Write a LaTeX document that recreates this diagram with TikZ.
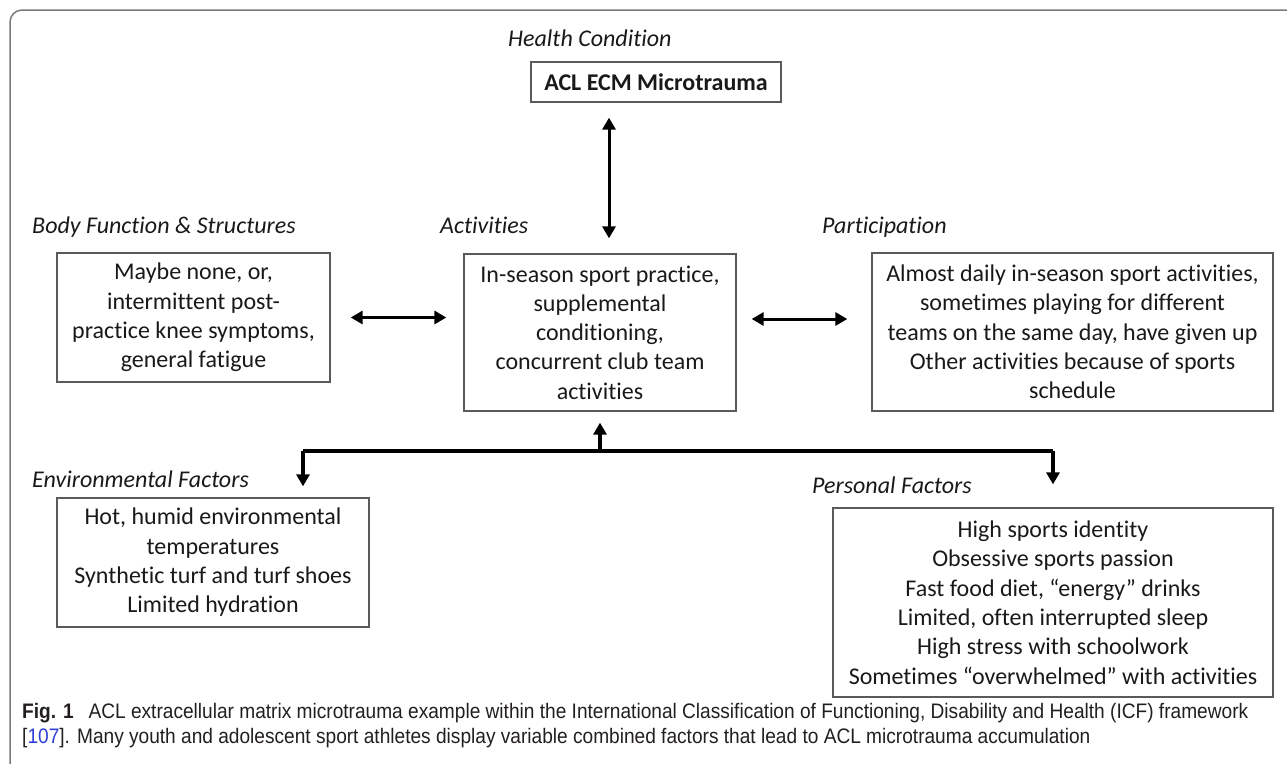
\documentclass[tikz,border=0pt]{standalone}
\usepackage{fontspec}
\setmainfont{Carlito}[Ligatures={NoCommon}]
\newfontfamily\capfont[FakeStretch=0.91]{Liberation Sans}
\usetikzlibrary{arrows.meta}
\definecolor{framegray}{HTML}{7A7A7A}
\definecolor{boxgray}{HTML}{5A5A5A}
\definecolor{linkblue}{HTML}{2B3FD6}
\definecolor{captxt}{HTML}{231F20}
\begin{document}
\begin{tikzpicture}[x=1pt,y=-1pt,
 box/.style={draw=boxgray,line width=1.3pt,align=center,inner sep=0pt,text=black!90,font=\fontsize{24}{29.3}\selectfont},
 lab/.style={anchor=base west,inner sep=0pt,font=\fontsize{24}{29.3}\selectfont\itshape,text=black!90},
 dbl/.style={line width=3pt,{Triangle[length=12pt,width=13pt]}-{Triangle[length=12pt,width=13pt]}},
 bus/.style={line width=3.2pt},
 busarrow/.style={line width=3.2pt,-{Triangle[length=12pt,width=13pt]}},
 capt/.style={anchor=base west,inner sep=0pt,text=captxt,font=\capfont\fontsize{21}{25}\selectfont}]
\useasboundingbox (0,0) rectangle (1287,763);
% frame
\draw[framegray,line width=1.5pt,rounded corners=12pt] (10,770) -- (10,10) -- (1295,10);

% labels
\node[lab] (lhc) at (508,46) {Health Condition};
\node[lab] (lbf) at (32,233) {Body Function \& Structures};
\node[lab] (lac) at (440,233) {Activities};
\node[lab] (lpa) at (822,233) {Participation};
\node[lab] (lef) at (32,487) {Environmental Factors};
\node[lab] (lpf) at (812,493) {Personal Factors};

% boxes
\node[box,minimum width=250pt,minimum height=40pt,font=\fontsize{24}{29.3}\selectfont\bfseries] (acl) at (656,82) {ACL ECM Microtrauma};
\node[box,minimum width=273pt,minimum height=129pt] (body) at (193.5,317.5) {Maybe none, or,\\intermittent post-\\practice knee symptoms,\\general fatigue};
\node[box,minimum width=272pt,minimum height=157pt] (act) at (600,332.5) {In-season sport practice,\\supplemental\\conditioning,\\concurrent club team\\activities};
\node[box,minimum width=401pt,minimum height=158pt] (part) at (1072.5,332) {Almost daily in-season sport activities,\\sometimes playing for different\\teams on the same day, have given up\\Other activities because of sports\\schedule};
\node[box,minimum width=312pt,minimum height=129pt] (env) at (213,562.5) {Hot, humid environmental\\temperatures\\Synthetic turf and turf shoes\\Limited hydration};
\node[box,minimum width=440pt,minimum height=189pt] (pers) at (1053,602.5) {High sports identity\\Obsessive sports passion\\Fast food diet, “energy” drinks\\Limited, often interrupted sleep\\High stress with schoolwork\\Sometimes “overwhelmed” with activities};

% connectors
\coordinate (vx) at (609,0);
\draw[dbl,shorten <=15pt,shorten >=15pt] (acl.south -| vx) -- (act.north -| vx);
\draw[dbl,shorten <=20pt,shorten >=17pt] (body.east) -- (act.west |- body.east);
\coordinate (ry) at (0,319);
\draw[dbl,shorten <=15pt,shorten >=24pt] (act.east |- ry) -- (part.west |- ry);

\coordinate (busc) at (600,451);
\coordinate (lx) at (303,451);
\coordinate (rx) at (1053,451);
\draw[bus] (lx) -- (rx);
\draw[busarrow,shorten >=11pt] (busc) -- (act.south);
\draw[busarrow,shorten >=11pt] (lx) -- (env.north -| lx);
\draw[busarrow,shorten >=23pt] (rx) -- (pers.north -| rx);

% caption
\node[capt] (cap1) at (22,718) {\textbf{Fig. 1}\hspace{0.7em}ACL extracellular matrix microtrauma example within the International Classification of Functioning, Disability and Health (ICF) framework};
\node[capt] (cap2) at (22,743) {[\textcolor{linkblue}{107}]. Many youth and adolescent sport athletes display variable combined factors that lead to ACL microtrauma accumulation};
\end{tikzpicture}
\end{document}
